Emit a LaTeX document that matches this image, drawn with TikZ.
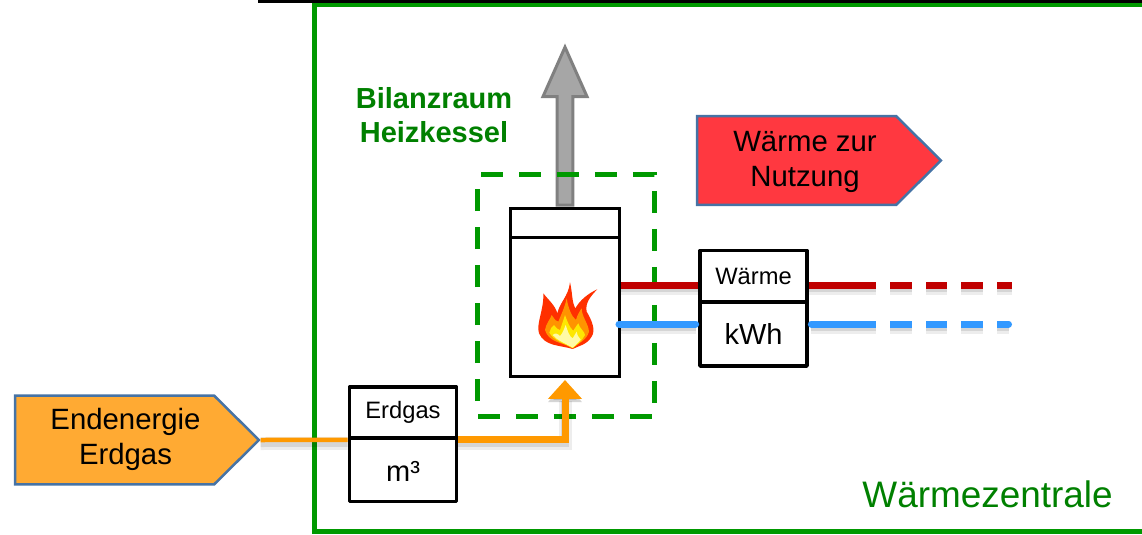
\documentclass[tikz,border=0pt]{standalone}
\usepackage{fontspec}
\setmainfont{Liberation Sans}
\usepackage{tikz}
\usetikzlibrary{arrows.meta,positioning,shapes.symbols,shapes.arrows}
\usepackage{xcolor}
\definecolor{framegreen}{RGB}{0,153,0}
\definecolor{textgreen}{RGB}{0,128,0}
\definecolor{gasorange}{RGB}{255,153,0}
\definecolor{gasfill}{RGB}{255,170,51}
\definecolor{heatred}{RGB}{255,56,64}
\definecolor{flowred}{RGB}{192,0,0}
\definecolor{returnblue}{RGB}{51,153,255}
\definecolor{signalblue}{RGB}{70,115,165}
\tikzset{
  signalbox/.style={draw=signalblue, line width=0.05cm, signal, signal to=east,
    signal pointer angle=89.4, minimum width=4.88cm, minimum height=1.78cm, inner sep=0pt},
  bigtext/.style={align=center, font=\fontsize{16.7}{20}\selectfont},
  unitbox/.style={draw=black, fill=white, line width=0.075cm, line join=round, minimum width=2.14cm, inner sep=0pt},
  kesselbox/.style={draw=black, fill=white, line width=0.06cm, minimum width=2.2cm, inner sep=0pt},
  pipeshadow/.style={preaction={draw, black, opacity=0.07, line width=0.26cm,
    transform canvas={yshift=-0.07cm}}, preaction={draw, black, opacity=0.1, line width=0.16cm,
    transform canvas={yshift=-0.06cm}}},
}
\begin{document}
\begin{tikzpicture}[x=0.02cm, y=-0.02cm]
  \useasboundingbox (0,0) rectangle (1142,534);
  % Frame
  \draw[black, line width=0.05cm] (258,1.5) -- (1142,1.5);
  \draw[framegreen, line width=0.1cm] (1142,5) -- (314,5) -- (314,531) -- (1142,531);
  \node[font=\fontsize{21}{25}\selectfont, textgreen] (zentrale) at (987.5,494) {Wärmezentrale};
  \node[align=center, font=\fontsize{16.5}{19.5}\bfseries\selectfont, textgreen] (bilanz) at (434,115.5) {Bilanzraum\\Heizkessel};
  % Exhaust
  \node[draw=black!50, fill=black!35, line width=0.06cm, single arrow, shape border rotate=90,
    minimum height=3.16cm, minimum width=0.88cm, inner sep=0pt, text width=0.22cm,
    single arrow tip angle=48] (abgas) at (565,135) {};
  % Balance boundary
  \draw[framegreen, line width=0.1cm, dash pattern=on 0.44cm off 0.32cm, dash phase=0.68cm]
    (477,174) -- (654,174) -- (654,416.5) -- (477,416.5) -- cycle;
  % Boiler
  \node[kesselbox, minimum height=0.58cm] (kesseltop) at (565,222.5) {};
  \node[kesselbox, minimum height=2.8cm] (kessel) at (565,307) {};
  % Flame
  \begin{scope}[shift={(470,160)}, x=0.00667cm, y=-0.00667cm]
    \fill[orange!20!red!90!yellow] (308,567) .. controls (270,555) and (225,560) .. (207,520)
      .. controls (198,490) and (222,450) .. (220,400)
      .. controls (235,420) and (255,435) .. (262,460)
      .. controls (270,425) and (295,410) .. (300,367)
      .. controls (308,400) and (305,425) .. (316,445)
      .. controls (330,420) and (355,400) .. (382,388)
      .. controls (360,410) and (345,430) .. (350,455)
      .. controls (365,480) and (378,510) .. (365,530)
      .. controls (350,555) and (325,558) .. cycle;
    \fill[orange!85!yellow] (308,560) .. controls (275,550) and (235,545) .. (225,510)
      .. controls (228,490) and (240,480) .. (245,465)
      .. controls (255,480) and (260,485) .. (265,485)
      .. controls (275,460) and (285,440) .. (290,415)
      .. controls (295,445) and (305,470) .. (318,480)
      .. controls (322,465) and (328,455) .. (335,445)
      .. controls (335,470) and (355,490) .. (357,515)
      .. controls (350,540) and (325,552) .. cycle;
    \fill[yellow!90!orange] (308,565) .. controls (280,550) and (250,540) .. (238,518)
      .. controls (240,508) and (245,500) .. (252,495)
      .. controls (260,505) and (265,510) .. (270,510)
      .. controls (275,495) and (280,480) .. (285,465)
      .. controls (292,485) and (300,505) .. (310,512)
      .. controls (315,505) and (320,495) .. (325,490)
      .. controls (328,505) and (345,515) .. (345,525)
      .. controls (335,545) and (320,555) .. cycle;
    \fill[yellow!35] (308,563) .. controls (285,550) and (260,540) .. (248,525)
      .. controls (255,518) and (262,520) .. (270,528)
      .. controls (278,520) and (283,505) .. (287,495)
      .. controls (292,510) and (298,530) .. (308,535)
      .. controls (312,530) and (316,520) .. (320,515)
      .. controls (322,530) and (330,535) .. (332,538)
      .. controls (325,550) and (315,555) .. cycle;
  \end{scope}
  % Meters
  \node[unitbox, minimum height=1.02cm, font=\fontsize{13.5}{16}\selectfont] (gastop) at (403,412.5) {Erdgas};
  \node[unitbox, minimum height=1.26cm, text height=0.44cm, font=\fontsize{16.5}{20}\selectfont] (gaswert) at (403,470) {m³};
  \node[unitbox, minimum height=1.02cm, font=\fontsize{13.5}{16}\selectfont] (waermetop) at (753.5,276) {Wärme};
  \node[unitbox, minimum height=1.28cm, font=\fontsize{16.5}{20}\selectfont] (waermewert) at (753.5,334) {kWh};
  % Sources
  \node[signalbox, fill=gasfill] (endenergie) at (114.5,440) {};
  \node[bigtext] (endenergietext) at (125.5,439) {Endenergie\\Erdgas};
  \node[signalbox, fill=heatred] (nutzung) at (796.5,160.5) {};
  \node[bigtext] (nutzungtext) at (805,162) {Wärme zur\\Nutzung};
  % Pipes
  \coordinate (vorlaufend) at (1012,285);
  \coordinate (ruecklaufend) at (1012,324);
  \draw[gasorange, line width=0.09cm, pipeshadow] (endenergie.east) -- (gastop.south west);
  \draw[gasorange, line width=0.14cm, pipeshadow, -{Triangle[width=0.66cm, length=0.38cm]}, shorten >=0.03cm]
    (gastop.south east) -| (kessel.south);
  \draw[flowred, line width=0.14cm, pipeshadow] (kessel.east |- vorlaufend) -- (waermetop.west |- vorlaufend);
  \draw[flowred, line width=0.14cm, pipeshadow] (waermetop.east |- vorlaufend) -- (vorlaufend);
  \draw[returnblue, line width=0.14cm, line cap=round, pipeshadow, shorten <=-0.05cm, shorten >=0.05cm]
    (kessel.east |- ruecklaufend) -- (waermewert.west |- ruecklaufend);
  \draw[returnblue, line width=0.14cm, line cap=round, pipeshadow, shorten <=0.05cm, shorten >=0.07cm]
    (waermewert.east |- ruecklaufend) -- (ruecklaufend);
  % Gaps
  \foreach \gapx in {876,912,947,983} {
    \fill[white] (\gapx,280) rectangle (\gapx+14,335);
  }
\end{tikzpicture}
\end{document}
